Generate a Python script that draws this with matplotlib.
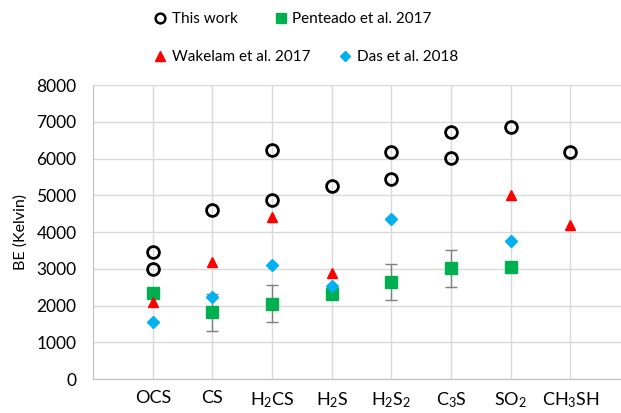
import numpy as np
import matplotlib
matplotlib.use("Agg")
import matplotlib.pyplot as plt
from matplotlib.lines import Line2D

plt.rcParams['font.family'] = ['Lato', 'DejaVu Sans']
plt.rcParams['mathtext.fontset'] = 'custom'
plt.rcParams['mathtext.rm'] = 'Lato'
plt.rcParams['mathtext.default'] = 'rm'

# categories (molecules)
molecules = ['OCS', 'CS', r'H$_2$CS', r'H$_2$S', r'H$_2$S$_2$', r'C$_3$S', r'SO$_2$', r'CH$_3$SH']

# This work (two values for some species)
this_work_x = [1, 1, 2, 3, 3, 4, 5, 5, 6, 6, 7, 8]
this_work_y = [3450, 3000, 4600, 6230, 4870, 5260, 6180, 5440, 6730, 6020, 6870, 6180]

# Penteado et al. 2017 with error bars
penteado_x = [1, 2, 3, 4, 5, 6, 7]
penteado_y = [2350, 1820, 2050, 2320, 2640, 3010, 3040]
penteado_err = [0, 500, 500, 0, 500, 500, 40]

# Wakelam et al. 2017
wakelam_x = [1, 2, 3, 4, 7, 8]
wakelam_y = [2100, 3200, 4400, 2900, 5000, 4200]

# Das et al. 2018
das_x = [1, 2, 3, 4, 5, 7]
das_y = [1550, 2230, 3100, 2540, 4360, 3750]

green = '#00b050'
red = '#ff0000'
blue = '#00b0f0'

fig = plt.figure(figsize=(6.21, 4.13), dpi=100)
ax = fig.add_axes([0.150, 0.082, 0.855, 0.712])

ax.errorbar(penteado_x, penteado_y, yerr=penteado_err, fmt='none',
            ecolor='#7f7f7f', elinewidth=1, capsize=4, capthick=1, zorder=2)
ax.plot(penteado_x, penteado_y, 's', color=green, markersize=8, linestyle='none', zorder=3)
ax.plot(wakelam_x, wakelam_y, '^', color=red, markersize=7.5, linestyle='none', zorder=3)
ax.plot(das_x, das_y, 'D', color=blue, markersize=6.5, linestyle='none', zorder=3)
ax.plot(this_work_x, this_work_y, 'o', markerfacecolor='none', markeredgecolor='black',
        markeredgewidth=2, markersize=8.5, linestyle='none', zorder=4)

ax.set_xlim(0, 8.9)
ax.set_ylim(0, 8000)
ax.set_yticks(np.arange(0, 8001, 1000))
ax.set_xticks(range(1, len(molecules) + 1))
ax.set_xticklabels(molecules, fontsize=13)
ax.tick_params(axis='y', labelsize=12.5, length=0, pad=12)
ax.tick_params(axis='x', length=0, pad=8)
ax.grid(True, color='#d9d9d9', linewidth=1)
ax.set_axisbelow(True)
for side in ['top', 'right']:
    ax.spines[side].set_visible(False)
for side in ['left', 'bottom']:
    ax.spines[side].set_color('#bfbfbf')
ax.set_ylabel('BE (Kelvin)', fontsize=11.5, labelpad=6)

# legend in two rows, as in the original
h_this = Line2D([], [], marker='o', linestyle='none', markerfacecolor='none',
                markeredgecolor='black', markeredgewidth=1.8, markersize=7)
h_pent = Line2D([], [], marker='s', linestyle='none', color=green, markersize=6.5)
h_wake = Line2D([], [], marker='^', linestyle='none', color=red, markersize=6.5)
h_das = Line2D([], [], marker='D', linestyle='none', color=blue, markersize=5.5)

leg1 = fig.legend([h_this, h_pent], ['This work', 'Penteado et al. 2017'], ncol=2,
                  loc='center left', bbox_to_anchor=(0.248, 0.953), frameon=False,
                  fontsize=11, handlelength=0.8, handletextpad=0.35, columnspacing=2.45,
                  borderpad=0, borderaxespad=0)
leg2 = fig.legend([h_wake, h_das], ['Wakelam et al. 2017', 'Das et al. 2018'], ncol=2,
                  loc='center left', bbox_to_anchor=(0.248, 0.862), frameon=False,
                  fontsize=11, handlelength=0.8, handletextpad=0.35, columnspacing=1.9,
                  borderpad=0, borderaxespad=0)

fig.savefig('out.png', dpi=100)
